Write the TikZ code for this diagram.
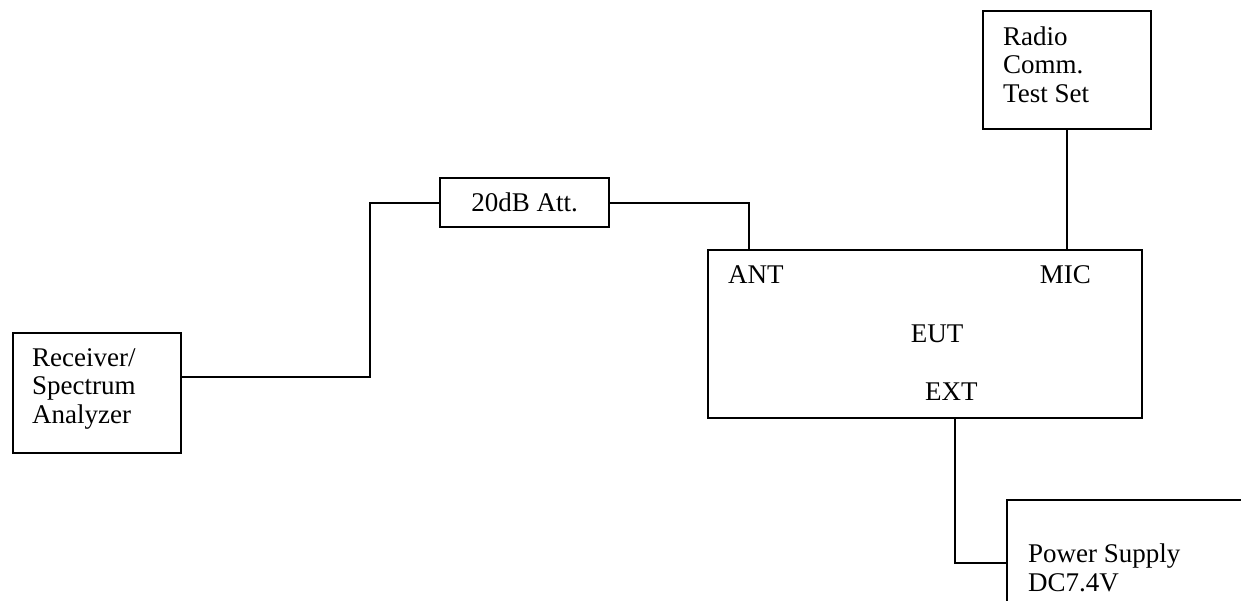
\documentclass[tikz,border=0pt]{standalone}
\usepackage{fontspec}
\setmainfont{Liberation Serif}
\begin{document}
\begin{tikzpicture}[x=1pt,y=-1pt,
  box/.style={draw, line width=2.1pt, inner sep=0pt, font=\fontsize{27}{28.5}\selectfont},
  lbl/.style={inner sep=0pt, align=left, font=\fontsize{27}{28.5}\selectfont},
  wire/.style={line width=2.1pt}]
\useasboundingbox (0,0) rectangle (1241,600);
\node[box, anchor=north west, minimum width=168pt, minimum height=120pt] (rx) at (12,332) {};
\node[lbl, anchor=base west] (rxtxt) at (32,423) {Receiver/\\Spectrum\\Analyzer};
\node[box, anchor=north west, minimum width=169pt, minimum height=49pt] (att) at (439,177) {20dB Att.};
\node[box, anchor=north west, minimum width=168pt, minimum height=118pt] (radio) at (982,10) {};
\node[lbl, anchor=base west] (radiotxt) at (1003,102) {Radio\\Comm.\\Test Set};
\node[box, anchor=north west, minimum width=434pt, minimum height=168pt] (eut) at (707,249) {};
\node[lbl, anchor=base west] (ant) at (728,283) {ANT};
\node[lbl, anchor=base east] (mic) at (1091,283) {MIC};
\node[lbl, anchor=base] (euttxt) at (937,342) {EUT};
\node[lbl, anchor=base west] (ext) at (925,400) {EXT};
\node[box, anchor=north west, minimum width=240pt, minimum height=126pt] (ps) at (1006,499) {};
\node[lbl, anchor=base west] (pstxt) at (1028,591) {Power Supply\\DC7.4V};
\coordinate (rxout) at ([yshift=16pt]rx.east);
\coordinate (antin) at ([xshift=42pt]eut.north west);
\coordinate (extout) at ([xshift=30pt]eut.south);
\draw[wire] (rxout) -- ++(188,0) |- (att.west);
\draw[wire] (att.east) -| (antin);
\draw[wire] (radio.south) -- (radio.south |- eut.north);
\draw[wire] (extout) |- (ps.west);
\end{tikzpicture}
\end{document}
